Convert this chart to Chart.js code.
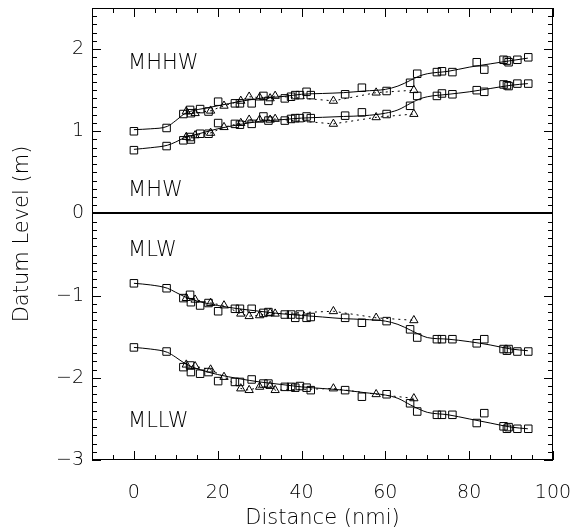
<!DOCTYPE html>
<html><head><meta charset="utf-8">
<script src="https://cdn.jsdelivr.net/npm/chart.js@4.4.1/dist/chart.umd.min.js"></script>
<style>html,body{margin:0;padding:0;background:#fff}</style>
</head><body>
<canvas id="c" width="579" height="531" style="width:579px;height:531px;display:block"></canvas>
<script>
// ---- data ----
const squareX = [0, 7.8, 11.8, 13.4, 13.6, 15.8, 17.8, 20.1, 24.1, 25.3, 28.1, 30.9, 32.1, 36, 37.5, 38.5, 39.6, 41.2, 42.2, 50.4, 54.4, 60.3, 65.9, 67.6, 72.3, 73.5, 76, 81.8, 83.6, 88.2, 89.0, 89.4, 91.5, 94.1];
const mhhwSquares = [1.00, 1.04, 1.21, 1.26, 1.22, 1.27, 1.24, 1.36, 1.34, 1.34, 1.34, 1.43, 1.37, 1.40, 1.42, 1.44, 1.44, 1.48, 1.44, 1.45, 1.53, 1.49, 1.59, 1.70, 1.72, 1.73, 1.72, 1.84, 1.75, 1.87, 1.86, 1.84, 1.87, 1.90];
const mhwSquares  = [0.77, 0.82, 0.89, 0.93, 0.90, 0.97, 0.97, 1.10, 1.09, 1.08, 1.09, 1.18, 1.13, 1.13, 1.15, 1.16, 1.16, 1.18, 1.16, 1.19, 1.23, 1.21, 1.31, 1.43, 1.43, 1.46, 1.45, 1.50, 1.48, 1.57, 1.56, 1.55, 1.58, 1.58];
const mlwSquares  = [-0.85, -0.91, -1.03, -0.99, -1.08, -1.12, -1.09, -1.19, -1.16, -1.16, -1.16, -1.21, -1.20, -1.23, -1.23, -1.27, -1.23, -1.27, -1.26, -1.27, -1.33, -1.31, -1.41, -1.51, -1.53, -1.53, -1.53, -1.58, -1.53, -1.65, -1.67, -1.65, -1.68, -1.68];
const mllwSquares = [-1.63, -1.68, -1.87, -1.85, -1.93, -1.95, -1.93, -2.04, -2.05, -2.05, -2.02, -2.07, -2.07, -2.11, -2.11, -2.12, -2.10, -2.12, -2.15, -2.15, -2.23, -2.20, -2.31, -2.41, -2.45, -2.45, -2.45, -2.55, -2.43, -2.59, -2.62, -2.60, -2.62, -2.62];

const triangleX = [12.5, 14.6, 18.3, 21.5, 25.5, 27.5, 30.0, 32.5, 33.7, 47.6, 57.8, 66.8];
const mhhwTriangles = [1.24, 1.22, 1.25, 1.31, 1.37, 1.42, 1.41, 1.40, 1.43, 1.37, 1.47, 1.50];
const mhwTriangles  = [0.93, 0.95, 0.98, 1.05, 1.10, 1.14, 1.14, 1.14, 1.15, 1.09, 1.17, 1.21];
const mlwTriangles  = [-1.03, -1.05, -1.09, -1.12, -1.22, -1.25, -1.24, -1.21, -1.22, -1.19, -1.27, -1.30];
const mllwTriangles = [-1.84, -1.86, -1.90, -1.99, -2.13, -2.15, -2.11, -2.10, -2.15, -2.13, -2.20, -2.25];

const curveX = [0, 4, 8, 10, 12, 14, 17, 20, 25, 30, 35, 40, 45, 50, 55, 60, 63, 66, 68, 70, 75, 80, 85, 90, 94];
const mhhwCurve = [1.02, 1.03, 1.06, 1.13, 1.21, 1.25, 1.28, 1.31, 1.36, 1.40, 1.42, 1.45, 1.46, 1.47, 1.49, 1.51, 1.55, 1.62, 1.67, 1.70, 1.73, 1.78, 1.82, 1.86, 1.89];
const mhwCurve  = [0.78, 0.80, 0.83, 0.87, 0.92, 0.95, 0.99, 1.03, 1.08, 1.12, 1.14, 1.16, 1.17, 1.18, 1.19, 1.22, 1.26, 1.34, 1.39, 1.42, 1.45, 1.48, 1.52, 1.56, 1.58];
const mlwCurve  = [-0.85, -0.87, -0.91, -0.96, -1.01, -1.05, -1.09, -1.12, -1.16, -1.19, -1.22, -1.24, -1.26, -1.28, -1.29, -1.31, -1.35, -1.42, -1.47, -1.51, -1.53, -1.56, -1.60, -1.65, -1.67];
const mllwCurve = [-1.63, -1.65, -1.69, -1.75, -1.82, -1.87, -1.92, -1.96, -2.01, -2.05, -2.08, -2.11, -2.13, -2.15, -2.18, -2.21, -2.25, -2.33, -2.38, -2.42, -2.45, -2.50, -2.55, -2.60, -2.62];

const xTickValues = [0, 20, 40, 60, 80, 100];
const yTickValues = [-3, -2, -1, 0, 1, 2];
const datumNames = ['MHHW', 'MHW', 'MLW', 'MLLW'];
const datumLabelY = [1.82, 0.28, -0.45, -2.53];
const datumLabelX = -1.4;

// ---- chart ----
const FONT = '"DejaVu Sans", sans-serif';
const pts = (xs, ys) => xs.map((x, i) => ({x: x, y: ys[i]}));
const sqSets = [mhhwSquares, mhwSquares, mlwSquares, mllwSquares];
const triSets = [mhhwTriangles, mhwTriangles, mlwTriangles, mllwTriangles];
const curveSets = [mhhwCurve, mhwCurve, mlwCurve, mllwCurve];
const datasets = [];
for (let i = 0; i < 4; i++) {
  datasets.push({
    label: datumNames[i] + ' fit', data: pts(curveX, curveSets[i]), showLine: true,
    borderColor: '#000', borderWidth: 1, pointRadius: 0, tension: 0.4,
    cubicInterpolationMode: 'monotone'
  });
  datasets.push({
    label: datumNames[i] + ' triangles', data: pts(triangleX, triSets[i]), showLine: true,
    borderColor: '#000', borderWidth: 1, borderDash: [2, 4],
    pointStyle: 'triangle', pointRadius: 4.8, pointBorderColor: '#000',
    pointBackgroundColor: 'rgba(0,0,0,0)', pointBorderWidth: 1
  });
  datasets.push({
    label: datumNames[i] + ' squares', data: pts(squareX, sqSets[i]), showLine: false,
    pointStyle: 'rect', pointRadius: 5.3, pointBorderColor: '#000',
    pointBackgroundColor: 'rgba(0,0,0,0)', pointBorderWidth: 1, borderColor: '#000'
  });
}

const frame = {
  id: 'frame',
  afterDatasetsDraw(chart) {
    const {ctx, chartArea: a, scales: {x, y}} = chart;
    ctx.save();
    ctx.strokeStyle = '#000';
    // zero line
    ctx.lineWidth = 2;
    const y0 = Math.round(y.getPixelForValue(0));
    ctx.beginPath(); ctx.moveTo(a.left, y0); ctx.lineTo(a.right, y0); ctx.stroke();
    // border
    ctx.lineWidth = 1;
    ctx.strokeRect(a.left + 0.5, a.top + 0.5, a.right - a.left - 1, a.bottom - a.top - 1);
    // ticks
    ctx.beginPath();
    for (let v = -10; v <= 100.001; v += 5) {
      const px = Math.round(x.getPixelForValue(v)) + 0.5;
      const len = (Math.abs(v % 20) < 1e-6) ? 9 : 5;
      ctx.moveTo(px, a.bottom); ctx.lineTo(px, a.bottom - len);
      ctx.moveTo(px, a.top); ctx.lineTo(px, a.top + len);
    }
    for (let k = -30; k <= 25; k++) {
      const v = k / 10;
      const py = Math.round(y.getPixelForValue(v)) + 0.5;
      const len = (k % 10 === 0) ? 9 : 5;
      ctx.moveTo(a.left, py); ctx.lineTo(a.left + len, py);
      ctx.moveTo(a.right, py); ctx.lineTo(a.right - len, py);
    }
    ctx.stroke();
    // datum labels
    ctx.fillStyle = '#000';
    ctx.font = '200 21px ' + FONT;
    ctx.textAlign = 'left'; ctx.textBaseline = 'middle';
    for (let i = 0; i < 4; i++) {
      ctx.fillText(datumNames[i], x.getPixelForValue(datumLabelX), y.getPixelForValue(datumLabelY[i]));
    }
    ctx.restore();
  }
};

const fmt = v => (v < 0 ? '\u2212' + Math.abs(v) : String(v));

new Chart(document.getElementById('c'), {
  type: 'scatter',
  data: {datasets},
  options: {
    responsive: false, animation: false, devicePixelRatio: 1,
    layout: {padding: {top: 8, right: 26, left: 0, bottom: 0}},
    plugins: {legend: {display: false}, tooltip: {enabled: false}},
    scales: {
      x: {
        type: 'linear', min: -10, max: 100,
        afterBuildTicks: s => { s.ticks = xTickValues.map(v => ({value: v})); },
        afterFit: s => { s.height = 71; s.paddingLeft = 0; s.paddingRight = 0; },
        grid: {display: false, drawTicks: false}, border: {display: false},
        ticks: {color: '#000', font: {family: FONT, size: 19, weight: 200}, padding: 22, maxRotation: 0, autoSkip: false, callback: fmt},
        title: {display: true, text: 'Distance (nmi)', color: '#000', font: {family: FONT, size: 21, weight: 200}, padding: {top: 0, bottom: 0}}
      },
      y: {
        type: 'linear', min: -3, max: 2.5,
        afterBuildTicks: s => { s.ticks = yTickValues.map(v => ({value: v})); },
        afterFit: s => { s.width = 92; s.paddingTop = 0; s.paddingBottom = 0; },
        grid: {display: false, drawTicks: false}, border: {display: false},
        ticks: {color: '#000', font: {family: FONT, size: 19, weight: 200}, padding: 8, autoSkip: false, callback: fmt},
        title: {display: true, text: 'Datum Level (m)', color: '#000', font: {family: FONT, size: 21, weight: 200}, padding: {top: 10, bottom: 0}}
      }
    }
  },
  plugins: [frame]
});
</script>
</body></html>
